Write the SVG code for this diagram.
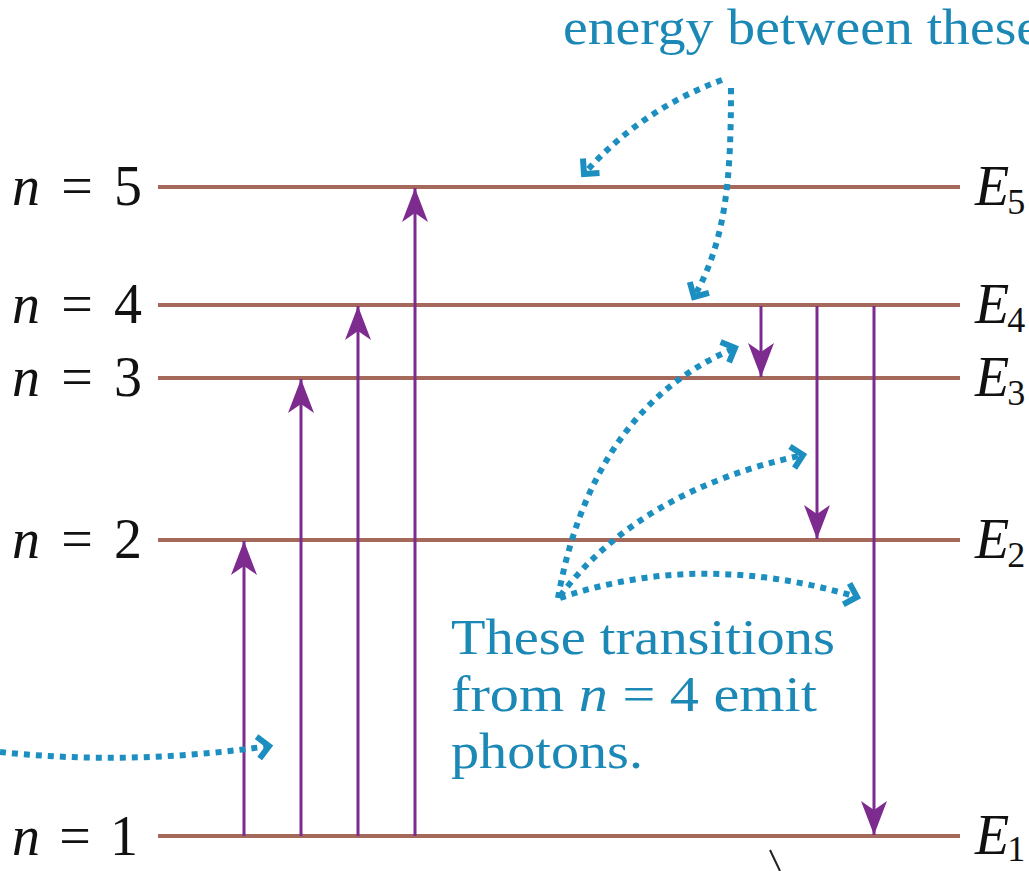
<svg xmlns="http://www.w3.org/2000/svg" width="1029" height="871" viewBox="0 0 1029 871">
<style>
.lvl{stroke:#a4695a;stroke-width:4;fill:none}
.tr{stroke:#7d2b8e;stroke-width:3;fill:none;marker-end:url(#ah)}
.dot{stroke:#1c8fc0;stroke-width:6;fill:none;stroke-dasharray:6 6;marker-end:url(#ch)}
.lab{font-size:56px;fill:#111}
.note{font-size:50px;fill:#1b88b6}
.it{font-style:italic}
</style>
<defs>
<marker id="ah" markerUnits="userSpaceOnUse" markerWidth="40" markerHeight="30" refX="0" refY="0" viewBox="-36 -15 40 30" orient="auto" overflow="visible">
<path d="M0,0 L-34,-13 L-25,0 L-34,13 Z" fill="#7d2b8e"/>
</marker>
<marker id="ch" markerUnits="userSpaceOnUse" markerWidth="30" markerHeight="30" refX="0" refY="0" viewBox="-15 -15 30 30" orient="auto" overflow="visible">
<path d="M-11,-11 L0,0 L-11,11" fill="none" stroke="#1c8fc0" stroke-width="6"/>
</marker>
</defs>

<g id="levels" font-family="'Liberation Serif', 'DejaVu Serif', serif">
<g id="level5"><line class="lvl" x1="158" y1="187" x2="960" y2="187"/><text class="lab" x="12" y="205" textLength="130" lengthAdjust="spacing"><tspan class="it">n</tspan> = 5</text><text class="lab" x="975" y="205"><tspan class="it">E</tspan><tspan font-size="36" dx="-2" dy="9">5</tspan></text></g>
<g id="level4"><line class="lvl" x1="158" y1="305" x2="960" y2="305"/><text class="lab" x="12" y="323" textLength="130" lengthAdjust="spacing"><tspan class="it">n</tspan> = 4</text><text class="lab" x="975" y="323"><tspan class="it">E</tspan><tspan font-size="36" dx="-2" dy="9">4</tspan></text></g>
<g id="level3"><line class="lvl" x1="158" y1="378" x2="960" y2="378"/><text class="lab" x="12" y="396" textLength="130" lengthAdjust="spacing"><tspan class="it">n</tspan> = 3</text><text class="lab" x="975" y="396"><tspan class="it">E</tspan><tspan font-size="36" dx="-2" dy="9">3</tspan></text></g>
<g id="level2"><line class="lvl" x1="158" y1="540" x2="960" y2="540"/><text class="lab" x="12" y="558" textLength="130" lengthAdjust="spacing"><tspan class="it">n</tspan> = 2</text><text class="lab" x="975" y="558"><tspan class="it">E</tspan><tspan font-size="36" dx="-2" dy="9">2</tspan></text></g>
<g id="level1"><line class="lvl" x1="158" y1="836" x2="960" y2="836"/><text class="lab" x="12" y="855" textLength="126" lengthAdjust="spacing"><tspan class="it">n</tspan> = 1</text><text class="lab" x="975" y="854"><tspan class="it">E</tspan><tspan font-size="36" dx="-2" dy="7">1</tspan></text></g>
</g>

<g id="connectors">
<line class="tr" x1="244" y1="836" x2="244" y2="541"/>
<line class="tr" x1="301" y1="836" x2="301" y2="379"/>
<line class="tr" x1="358" y1="836" x2="358" y2="306"/>
<line class="tr" x1="415" y1="836" x2="415" y2="188"/>
<line class="tr" x1="761" y1="306" x2="761" y2="377"/>
<line class="tr" x1="817" y1="306" x2="817" y2="539"/>
<line class="tr" x1="874" y1="306" x2="874" y2="835"/>
<path class="dot" d="M722,80 Q640,110 584,174"/>
<path class="dot" d="M731,88 C731,180 726,240 694,297"/>
<path class="dot" d="M558,598 C572,520 610,400 735,348"/>
<path class="dot" d="M560,596 Q640,490 803,455"/>
<path class="dot" d="M560,598 Q700,550 857,597"/>
<path class="dot" d="M0,752 Q130,766 269,746"/>
<line x1="770" y1="850" x2="780" y2="871" stroke="#222" stroke-width="2"/>
</g>

<g id="note-top" font-family="'Liberation Serif', 'DejaVu Serif', serif">
<text class="note" x="563" y="44" textLength="478" lengthAdjust="spacingAndGlyphs">energy between these</text>
</g>
<g id="note-bottom" font-family="'Liberation Serif', 'DejaVu Serif', serif">
<text class="note" x="451" y="654" textLength="384" lengthAdjust="spacingAndGlyphs">These transitions</text>
<text class="note" x="451" y="711" textLength="366" lengthAdjust="spacingAndGlyphs">from <tspan class="it">n</tspan> = 4 emit</text>
<text class="note" x="451" y="768" textLength="192" lengthAdjust="spacingAndGlyphs">photons.</text>
</g>
</svg>
